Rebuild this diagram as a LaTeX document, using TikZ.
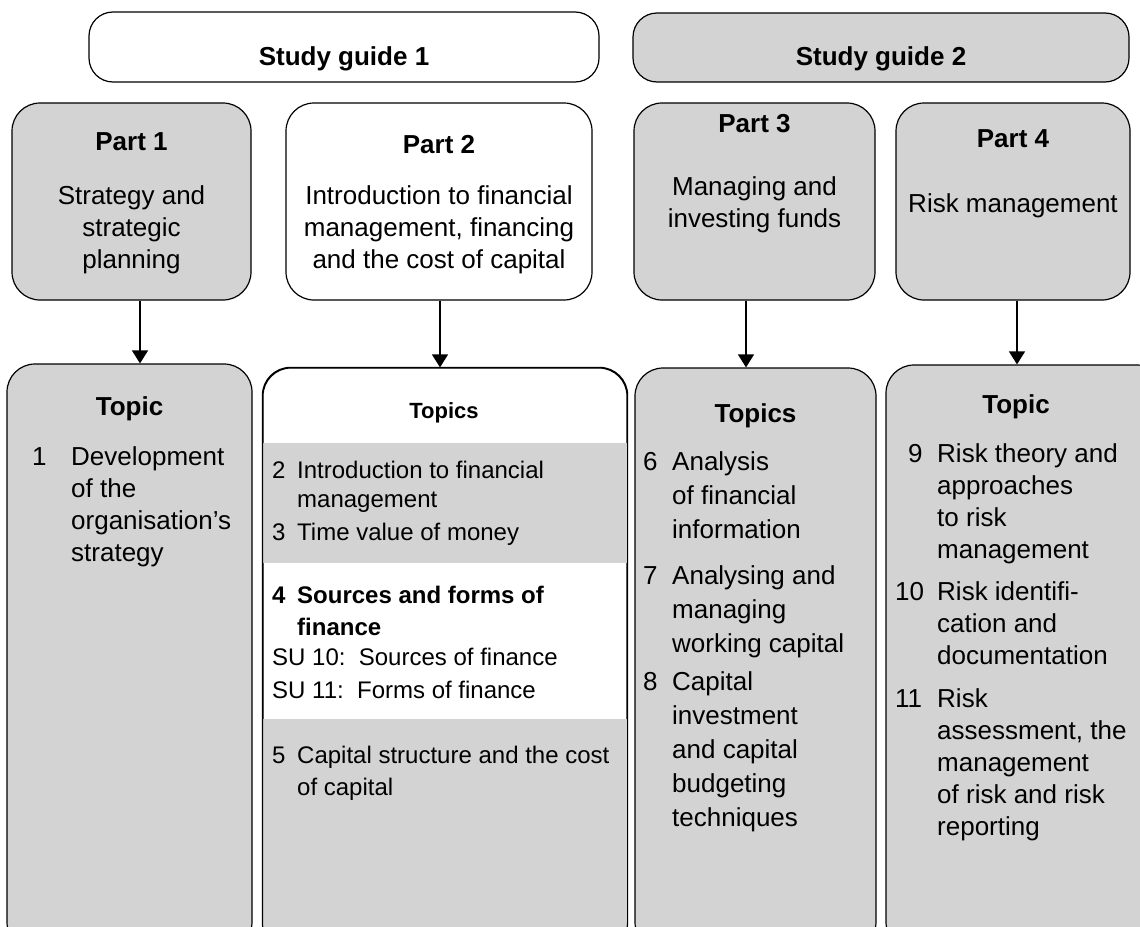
\documentclass[tikz,border=0pt]{standalone}
\usepackage{fontspec}
\setmainfont{Liberation Sans}
\usetikzlibrary{arrows.meta}
\definecolor{boxgray}{RGB}{211,211,211}
\newcommand\fst{\rule{0pt}{1em}}
\begin{document}
\begin{tikzpicture}[x=1pt,y=-1pt,
  box/.style={draw=black, line width=1.2pt, rounded corners=28pt, inner sep=0pt},
  grey/.style={fill=boxgray},
  white/.style={fill=white},
  head/.style={inner sep=0pt, anchor=base, font=\fontsize{26}{32}\selectfont\bfseries},
  smallhead/.style={inner sep=0pt, anchor=base, font=\fontsize{22}{27}\selectfont\bfseries},
  ctext/.style={inner sep=0pt, anchor=north, align=center, font=\fontsize{26}{32}\selectfont},
  num/.style={inner sep=0pt, anchor=base west, font=\fontsize{26}{32}\selectfont},
  item/.style={inner sep=0pt, anchor=north west, align=left, font=\fontsize{26}{32}\selectfont},
  snum/.style={inner sep=0pt, anchor=base west, font=\fontsize{24}{29}\selectfont},
  sitem/.style={inner sep=0pt, anchor=north west, align=left, font=\fontsize{24}{29}\selectfont},
  arr/.style={line width=1.2pt, -{Triangle[width=16pt,length=13pt]}}
]
\useasboundingbox (0,0) rectangle (1140,926);
\clip (0,0) rectangle (1140,926);

% study guide headers
\node[box, white, rounded corners=24pt, minimum width=510pt, minimum height=70pt] (sg1) at (344,47) {};
\node[box, grey, rounded corners=24pt, minimum width=496pt, minimum height=69pt] (sg2) at (881,47.5) {};
\node[head] (sg1t) at (344,65) {Study guide 1};
\node[head] (sg2t) at (881,65) {Study guide 2};

% parts
\node[box, grey, minimum width=239pt, minimum height=197pt] (p1) at (131.5,201.5) {};
\node[box, white, minimum width=306pt, minimum height=197pt] (p2) at (439,201.5) {};
\node[box, grey, minimum width=241pt, minimum height=197pt] (p3) at (754.5,201.5) {};
\node[box, grey, minimum width=234pt, minimum height=197pt] (p4) at (1013,201.5) {};

\node[head] (p1h) at (131.5,150) {Part 1};
\node[ctext] (p1t) at (131.5,178) {\fst Strategy and\\strategic\\planning};
\node[head] (p2h) at (439,153) {Part 2};
\node[ctext] (p2t) at (439,178) {\fst Introduction to financial\\management, financing\\and the cost of capital};
\node[head] (p3h) at (754.5,132) {Part 3};
\node[ctext] (p3t) at (754.5,169) {\fst Managing and\\investing funds};
\node[head] (p4h) at (1013,147) {Part 4};
\node[head, font=\fontsize{26}{32}\selectfont] (p4t) at (1013,212) {Risk management};

% topic boxes
\node[box, grey, minimum width=245pt, minimum height=586pt] (t1) at (129.5,657) {};
\node[box, white, minimum width=364pt, minimum height=582pt] (t2) at (445,659) {};
\begin{scope}
  \clip[rounded corners=28pt] (t2.north west) rectangle (t2.south east);
  \fill[boxgray] (t2.west |- 0,443) rectangle (t2.east |- 0,563);
  \fill[boxgray] (t2.west |- 0,719) rectangle (t2.south east);
\end{scope}
\draw[line width=1.2pt, rounded corners=28pt] (t2.north west) rectangle (t2.south east);
\node[box, grey, minimum width=241pt, minimum height=582pt] (t3) at (755.5,659) {};
\node[box, grey, minimum width=279pt, minimum height=585pt] (t4) at (1025.5,657.5) {};

% arrows from parts to topics
\draw[arr] ([xshift=8.5pt]p1.south) -- ([xshift=8.5pt]p1.south |- t1.north);
\draw[arr] ([xshift=1pt]p2.south) -- ([xshift=1pt]p2.south |- t2.north);
\draw[arr] ([xshift=-8.5pt]p3.south) -- ([xshift=-8.5pt]p3.south |- t3.north);
\draw[arr] ([xshift=4pt]p4.south) -- ([xshift=4pt]p4.south |- t4.north);

% topic 1
\node[head] (t1h) at (129.5,415) {Topic};
\node[num] (n1) at (32,465) {1};
\node[item] (i1) at (71,439) {\fst Development\\of the\\organisation’s\\strategy};

% topics 2 to 5
\node[smallhead] (t2h) at (444,418) {Topics};
\node[snum] (n2) at (272,478) {2};
\node[sitem] (i2) at (297,454) {\fst Introduction to financial\\management};
\node[snum] (n3) at (272,540) {3};
\node[snum] (i3) at (297,540) {Time value of money};
\node[snum, font=\fontsize{24}{29}\selectfont\bfseries] (n4) at (272,603) {4};
\node[sitem, font=\fontsize{24}{32}\selectfont\bfseries] (i4) at (297,579) {\fst Sources and forms of\\finance};
\node[snum] (su10) at (272,665) {SU 10:\ \ Sources of finance};
\node[snum] (su11) at (272,698) {SU 11:\ \ Forms of finance};
\node[snum] (n5) at (272,763) {5};
\node[sitem, font=\fontsize{24}{32}\selectfont] (i5) at (297,739) {\fst Capital structure and the cost\\of capital};

% topics 6 to 8
\node[head] (t3h) at (755.5,422) {Topics};
\node[num] (n6) at (643,470) {6};
\node[item, font=\fontsize{26}{34}\selectfont] (i6) at (672,444) {\fst Analysis\\of financial\\information};
\node[num] (n7) at (643,584) {7};
\node[item, font=\fontsize{26}{34}\selectfont] (i7) at (672,558) {\fst Analysing and\\managing\\working capital};
\node[num] (n8) at (643,690) {8};
\node[item, font=\fontsize{26}{34}\selectfont] (i8) at (672,664) {\fst Capital\\investment\\and capital\\budgeting\\techniques};

% topics 9 to 11
\node[head] (t4h) at (1016,413) {Topic};
\node[num] (n9) at (908,462) {9};
\node[item] (i9) at (937,436) {\fst Risk theory and\\approaches\\to risk\\management};
\node[num] (n10) at (895,600) {10};
\node[item] (i10) at (937,574) {\fst Risk identifi-\\cation and\\documentation};
\node[num] (n11) at (895,707) {11};
\node[item] (i11) at (937,681) {\fst Risk\\assessment, the\\management\\of risk and risk\\reporting};
\end{tikzpicture}
\end{document}
